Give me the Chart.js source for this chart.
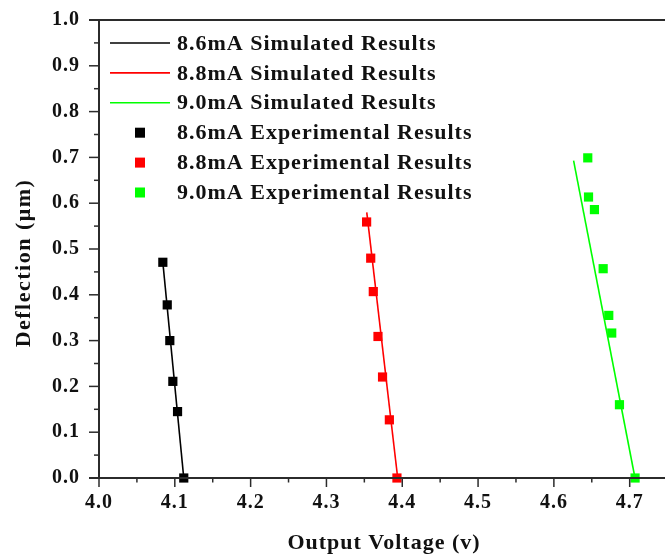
<!DOCTYPE html>
<html>
<head>
<meta charset="utf-8">
<script src="https://cdn.jsdelivr.net/npm/chart.js@4.4.1/dist/chart.umd.min.js"></script>
<style>
html,body{margin:0;padding:0;background:#fff;overflow:hidden;}
canvas{display:block;}
</style>
</head>
<body>
<canvas id="c" width="665" height="559"></canvas>
<script>
// ---- data ----
const seriesNames = ["8.6mA", "8.8mA", "9.0mA"];
const seriesColors = ["#000000", "#ff0000", "#00ff00"];

const sim86X = [4.0842, 4.1118];
const sim86Y = [0.471, 0.0];
const sim88X = [4.3532, 4.394];
const sim88Y = [0.580, 0.0];
const sim90X = [4.626, 4.707];
const sim90Y = [0.693, 0.0];

const exp86X = [4.0842, 4.0900, 4.0934, 4.0974, 4.1036, 4.1118];
const exp86Y = [0.471, 0.378, 0.300, 0.211, 0.145, 0.0];
const exp88X = [4.3530, 4.3584, 4.3618, 4.3680, 4.3740, 4.3830, 4.3930];
const exp88Y = [0.559, 0.480, 0.407, 0.309, 0.2205, 0.127, 0.0];
const exp90X = [4.6447, 4.6457, 4.6535, 4.6650, 4.6724, 4.6763, 4.6865, 4.7071];
const exp90Y = [0.699, 0.6135, 0.586, 0.457, 0.355, 0.3165, 0.160, 0.0];

const xTicks = [4.0, 4.1, 4.2, 4.3, 4.4, 4.5, 4.6, 4.7];
const yTicks = [0.0, 0.1, 0.2, 0.3, 0.4, 0.5, 0.6, 0.7, 0.8, 0.9, 1.0];
const xTitle = "Output Voltage (v)";
const yTitle = "Deflection (\u03bcm)";

const legendLabels = [
  "8.6mA Simulated Results",
  "8.8mA Simulated Results",
  "9.0mA Simulated Results",
  "8.6mA Experimental Results",
  "8.8mA Experimental Results",
  "9.0mA Experimental Results"
];

// ---- helpers ----
const pts = (xs, ys) => xs.map((x, i) => ({x: x, y: ys[i]}));
const FONT = "'Liberation Serif', 'Times New Roman', serif";
const AXIS = "#2b2b2b";

function lineDs(label, xs, ys, color) {
  return {type: 'line', label, data: pts(xs, ys), borderColor: color, backgroundColor: color,
    borderWidth: 1.6, pointRadius: 0, showLine: true, fill: false, order: 2, clip: false};
}
function markDs(label, xs, ys, color) {
  return {type: 'scatter', label, data: pts(xs, ys), borderColor: color, backgroundColor: color,
    borderWidth: 0, pointStyle: 'rect', pointRadius: 6.5, showLine: false, order: 1, clip: false};
}

const decorPlugin = {
  id: 'decor',
  beforeDraw(chart) {
    chart.ctx.letterSpacing = '1px';
  },
  afterDraw(chart) {
    const ctx = chart.ctx, xs = chart.scales.x, ys = chart.scales.y, ca = chart.chartArea;
    ctx.save();
    ctx.strokeStyle = AXIS;
    ctx.lineWidth = 1.5;
    // x ticks (major + minor)
    for (let i = 0; i < xTicks.length; i++) {
      const v = xTicks[i];
      const px = xs.getPixelForValue(v);
      ctx.beginPath(); ctx.moveTo(px, ca.bottom); ctx.lineTo(px, ca.bottom + 9); ctx.stroke();
      const m = xs.getPixelForValue(v + 0.05);
      if (m < ca.right) { ctx.beginPath(); ctx.moveTo(m, ca.bottom); ctx.lineTo(m, ca.bottom + 4.5); ctx.stroke(); }
    }
    // y ticks (major + minor)
    for (let i = 0; i < yTicks.length; i++) {
      const v = yTicks[i];
      const py = ys.getPixelForValue(v);
      ctx.beginPath(); ctx.moveTo(ca.left, py); ctx.lineTo(ca.left - 10, py); ctx.stroke();
      if (i < yTicks.length - 1) {
        const m = ys.getPixelForValue(v + 0.05);
        ctx.beginPath(); ctx.moveTo(ca.left, m); ctx.lineTo(ca.left - 5, m); ctx.stroke();
      }
    }
    // frame: left, bottom, top
    ctx.lineWidth = 2;
    ctx.beginPath();
    ctx.moveTo(ca.left, ca.top); ctx.lineTo(ca.left, ca.bottom);
    ctx.moveTo(ca.left - 10, ca.bottom); ctx.lineTo(chart.width, ca.bottom);
    ctx.moveTo(ca.left - 10, ca.top); ctx.lineTo(chart.width, ca.top);
    ctx.stroke();

    // axis titles
    ctx.fillStyle = "#111";
    ctx.font = "bold 22px " + FONT;
    ctx.textAlign = 'center';
    ctx.textBaseline = 'middle';
    ctx.letterSpacing = '1px';
    ctx.fillText(xTitle, 384, 543);
    ctx.save();
    ctx.letterSpacing = '1.5px';
    ctx.translate(24, 263);
    ctx.rotate(-Math.PI / 2);
    ctx.fillText(yTitle, 0, 0);
    ctx.restore();
    ctx.restore();

    // legend
    ctx.save();
    ctx.font = "bold 22px " + FONT;
    ctx.letterSpacing = '1px';
    ctx.textAlign = 'left';
    ctx.textBaseline = 'middle';
    const rowY0 = 43, rowH = 29.9;
    for (let i = 0; i < legendLabels.length; i++) {
      const y = rowY0 + i * rowH;
      const col = seriesColors[i % 3];
      if (i < 3) {
        ctx.strokeStyle = col; ctx.lineWidth = 1.6;
        ctx.beginPath(); ctx.moveTo(110, y); ctx.lineTo(170, y); ctx.stroke();
      } else {
        ctx.fillStyle = col;
        ctx.fillRect(135, y - 5, 10, 10);
      }
      ctx.fillStyle = "#111";
      ctx.fillText(legendLabels[i], 177, y + 1);
    }
    ctx.restore();
    ctx.letterSpacing = '0px';
  }
};

new Chart(document.getElementById('c'), {
  data: {
    datasets: [
      lineDs(legendLabels[0], sim86X, sim86Y, seriesColors[0]),
      lineDs(legendLabels[1], sim88X, sim88Y, seriesColors[1]),
      lineDs(legendLabels[2], sim90X, sim90Y, seriesColors[2]),
      markDs(legendLabels[3], exp86X, exp86Y, seriesColors[0]),
      markDs(legendLabels[4], exp88X, exp88Y, seriesColors[1]),
      markDs(legendLabels[5], exp90X, exp90Y, seriesColors[2])
    ]
  },
  options: {
    responsive: false,
    animation: false,
    layout: {padding: {top: 20, left: 0, right: 0, bottom: 4}},
    plugins: {legend: {display: false}, tooltip: {enabled: false}},
    scales: {
      x: {
        type: 'linear', position: 'bottom', min: 4.0, max: 4.738,
        afterBuildTicks: (s) => { s.ticks = xTicks.map(v => ({value: v})); },
        afterFit: (s) => { s.height = 77; s.paddingLeft = 0; s.paddingRight = 0; },
        ticks: {color: '#111', font: {family: FONT, size: 20, weight: 'bold'}, padding: 13,
          maxRotation: 0, autoSkip: false, callback: (v) => Number(v).toFixed(1)},
        grid: {display: false, drawTicks: false},
        border: {display: false},
        title: {display: false}
      },
      y: {
        type: 'linear', position: 'left', min: 0, max: 1.0,
        afterBuildTicks: (s) => { s.ticks = yTicks.map(v => ({value: v})); },
        afterFit: (s) => { s.width = 99; s.paddingTop = 0; s.paddingBottom = 0; },
        ticks: {color: '#111', font: {family: FONT, size: 20, weight: 'bold'}, padding: 19,
          autoSkip: false, callback: (v) => Number(v).toFixed(1)},
        grid: {display: false, drawTicks: false},
        border: {display: false}
      }
    }
  },
  plugins: [decorPlugin]
});
</script>
</body>
</html>
